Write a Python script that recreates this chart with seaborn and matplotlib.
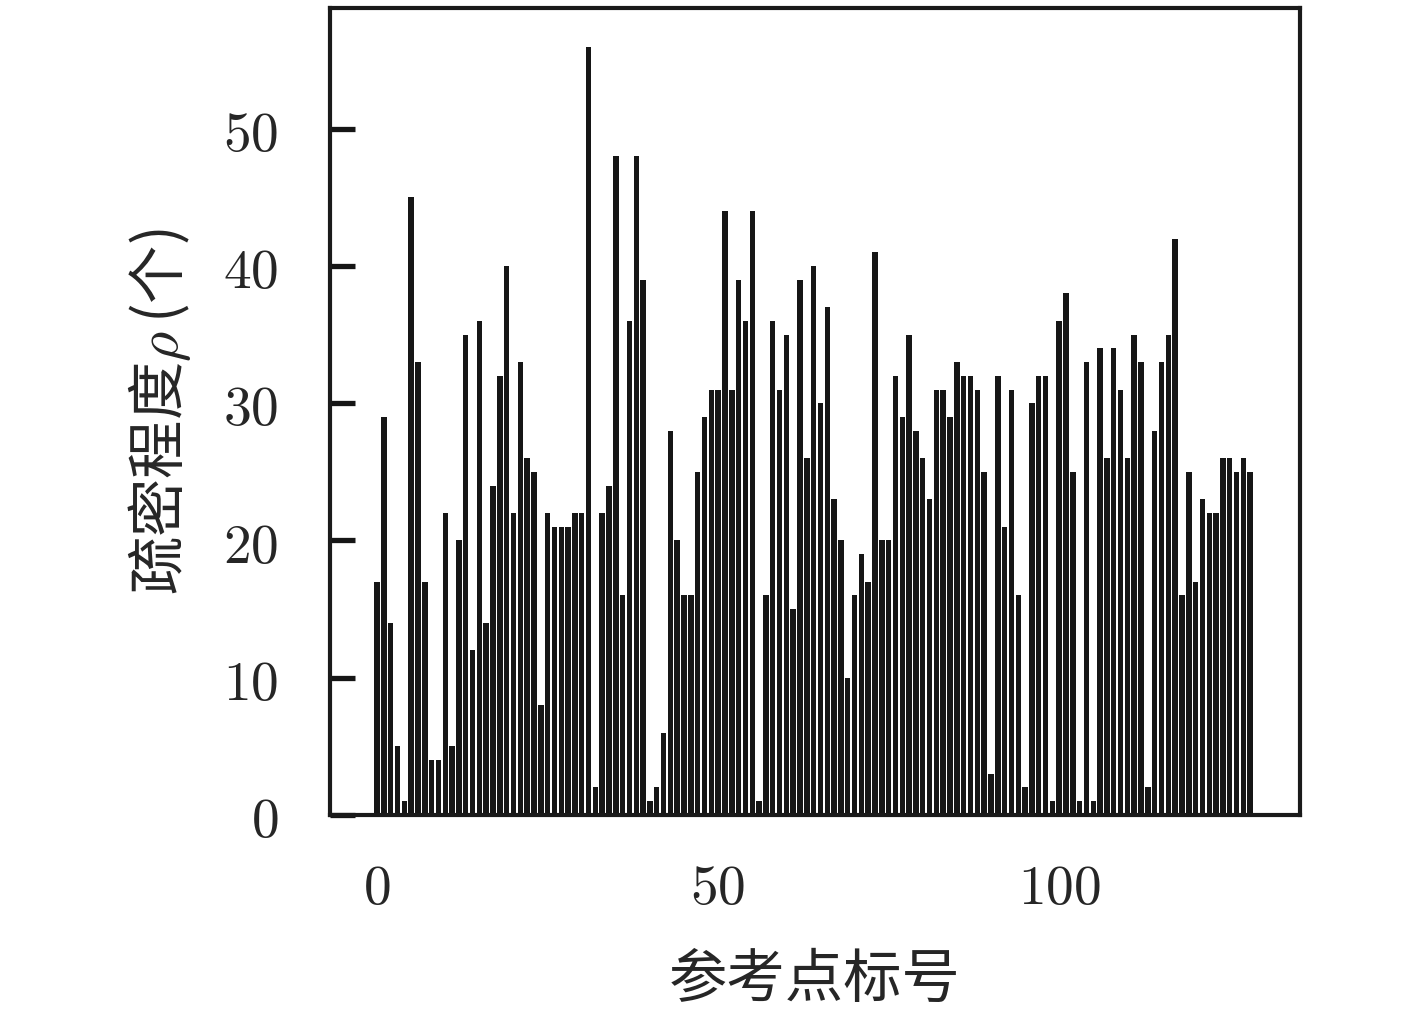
import numpy as np
import pandas as pd
import matplotlib
matplotlib.use("Agg")
import matplotlib.pyplot as plt
import seaborn as sns

# indice de los puntos de referencia y su densidad
puntos = list(range(129))
densidad = [
    17, 29, 14, 5, 1, 45, 33, 17, 4, 4, 22, 5, 20, 35, 12, 36, 14, 24, 32, 40,
    22, 33, 26, 25, 8, 22, 21, 21, 21, 22, 22, 56, 2, 22, 24, 48, 16, 36, 48, 39,
    1, 2, 6, 28, 20, 16, 16, 25, 29, 31, 31, 44, 31, 39, 36, 44, 1, 16, 36, 31,
    35, 15, 39, 26, 40, 30, 37, 23, 20, 10, 16, 19, 17, 41, 20, 20, 32, 29, 35, 28,
    26, 23, 31, 31, 29, 33, 32, 32, 31, 25, 3, 32, 21, 31, 16, 2, 30, 32, 32, 1,
    36, 38, 25, 1, 33, 1, 34, 26, 34, 31, 26, 35, 33, 2, 28, 33, 35, 42, 16, 25,
    17, 23, 22, 22, 26, 26, 25, 26, 25,
]
xticks = [0, 50, 100]
yticks = [0, 10, 20, 30, 40, 50]

sns.set_theme(style="ticks")
plt.rcParams['font.family'] = ['Noto Sans CJK SC', 'DejaVu Sans']
plt.rcParams['mathtext.fontset'] = 'cm'

df = pd.DataFrame({'punto': puntos, 'densidad': densidad})

fig = plt.figure(figsize=(14.17, 10.16), dpi=100)
ax = fig.add_axes([0.2329, 0.198, 0.6845, 0.794])
sns.barplot(data=df, x='punto', y='densidad', native_scale=True, color='#161616',
            saturation=1, width=0.8, linewidth=0, ax=ax)

ax.set_xlim(-6.9, 135.3)
ax.set_ylim(0, 58.8)
ax.set_xticks(xticks)
ax.set_xticklabels([f'${v}$' for v in xticks])
ax.set_yticks(yticks)
ax.set_yticklabels([f'${v}$' for v in yticks])
# marcas del eje y hacia adentro, gruesas
ax.tick_params(axis='y', direction='in', length=18, width=3.8, color='#161616',
               labelsize=40, pad=37, left=True, right=False)
ax.tick_params(axis='x', direction='in', length=8, width=1.5, color='#bbbbbb',
               labelsize=40, pad=32, bottom=True, top=False)

for s in ax.spines.values():
    s.set_visible(True)
    s.set_linewidth(3)
    s.set_color('#1a1a1a')

ax.set_xlabel('参考点标号', fontsize=42, labelpad=24)
ax.set_ylabel(r'疏密程度$\rho\,$(个)', fontsize=42, labelpad=22)

fig.savefig('out.png', dpi=100)
plt.close()
